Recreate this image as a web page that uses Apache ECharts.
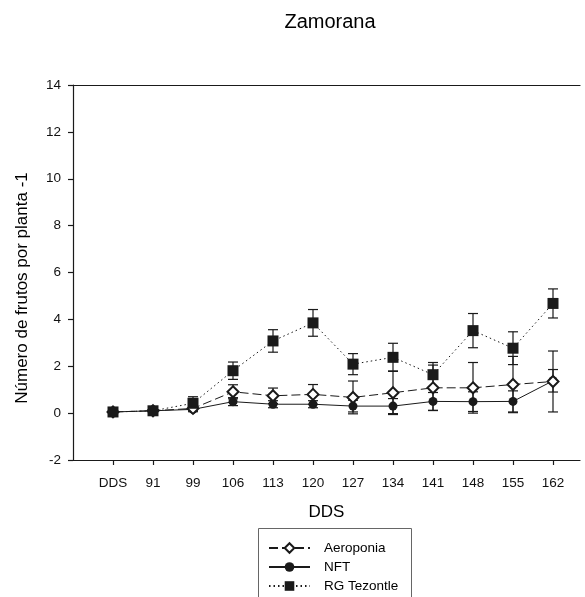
<!DOCTYPE html>
<html>
<head>
<meta charset="utf-8">
<script src="https://cdn.jsdelivr.net/npm/echarts@6/dist/echarts.min.js"></script>
<style>
  html, body { margin: 0; padding: 0; background: #fff; }
  #chart { width: 585px; height: 597px; }
</style>
</head>
<body>
<div id="chart"></div>
<script>
// Days after sowing (DDS) sampling points
const categories = ['DDS', '91', '99', '106', '113', '120', '127', '134', '141', '148', '155', '162'];

// Mean fruits per plant and their error bars, per growing system
const aeroponia    = [0.05, 0.10, 0.20, 0.91, 0.74, 0.80, 0.67, 0.87, 1.08, 1.08, 1.22, 1.35];
const aeroponiaErr = [0, 0, 0.10, 0.30, 0.33, 0.42, 0.70, 0.93, 0.97, 1.08, 1.20, 1.30];
const nft          = [0.05, 0.10, 0.16, 0.49, 0.38, 0.38, 0.30, 0.30, 0.50, 0.49, 0.50, 1.38];
const nftErr       = [0, 0, 0.10, 0.17, 0.15, 0.15, 0.25, 0.32, 0.38, 0.42, 0.45, 0.48];
const rgTezontle   = [0.05, 0.10, 0.42, 1.81, 3.08, 3.85, 2.09, 2.38, 1.64, 3.52, 2.77, 4.68];
const rgTezontleErr = [0, 0, 0.28, 0.37, 0.48, 0.57, 0.45, 0.60, 0.52, 0.73, 0.70, 0.62];

const yTicks = [-2, 0, 2, 4, 6, 8, 10, 12, 14];

const INK = '#1a1a1a';
const FONT = '"Liberation Sans", Arial, sans-serif';

const idx = categories.map((_, i) => i);
const points = vals => vals.map((v, i) => [i, v]);
const bars = (vals, errs) => vals
  .map((v, i) => [i, v - errs[i], v + errs[i]])
  .filter((d, i) => errs[i] > 0);

function errorBarRenderer(params, api) {
  const x = api.value(0);
  const lo = api.coord([x, api.value(1)]);
  const hi = api.coord([x, api.value(2)]);
  const half = 5;
  const style = { stroke: INK, lineWidth: 1.2 };
  return {
    type: 'group',
    children: [
      { type: 'line', shape: { x1: hi[0], y1: hi[1], x2: lo[0], y2: lo[1] }, style },
      { type: 'line', shape: { x1: hi[0] - half, y1: hi[1], x2: hi[0] + half, y2: hi[1] }, style },
      { type: 'line', shape: { x1: lo[0] - half, y1: lo[1], x2: lo[0] + half, y2: lo[1] }, style }
    ]
  };
}

const errorSeries = (name, vals, errs) => ({
  name: name + ' err',
  type: 'custom',
  renderItem: errorBarRenderer,
  data: bars(vals, errs),
  encode: { x: 0, y: [1, 2] },
  z: 1,
  silent: true
});

const chart = echarts.init(document.getElementById('chart'));
chart.setOption({
  animation: false,
  backgroundColor: '#fff',
  textStyle: { fontFamily: FONT, color: INK },
  graphic: [
    {
      type: 'text', x: 330, y: 22,
      style: { text: 'Zamorana', font: '20px ' + FONT, fill: '#000', align: 'center', verticalAlign: 'middle' }
    },
    {
      type: 'text', x: 22, y: 288, rotation: Math.PI / 2,
      style: { text: 'Número de frutos por planta -1', font: '17px ' + FONT, fill: '#000', align: 'center', verticalAlign: 'middle' }
    },
    {
      type: 'rect', shape: { x: 258.5, y: 528.5, width: 153, height: 80 },
      style: { fill: 'none', stroke: '#666', lineWidth: 1 }
    }
  ],
  grid: { left: 73, top: 85, right: 5, bottom: 137 },
  legend: {
    orient: 'vertical',
    left: 258,
    top: 528,
    padding: [13, 8, 2, 10],
    itemGap: 5,
    itemWidth: 41,
    itemHeight: 12,
    textStyle: { fontSize: 13.5, color: '#000', fontFamily: FONT, padding: [0, 0, 0, 9] },
    data: ['Aeroponia', 'NFT', 'RG Tezontle']
  },
  xAxis: [
    {
      type: 'value',
      min: -1,
      max: 11.675,
      name: 'DDS',
      nameLocation: 'middle',
      nameGap: 44,
      nameTextStyle: { fontSize: 17, color: '#000', fontFamily: FONT },
      splitLine: { show: false },
      axisLine: { show: true, onZero: false, lineStyle: { color: INK, width: 1.2 } },
      axisTick: { show: true, length: 5, customValues: idx, lineStyle: { color: INK, width: 1.2 } },
      axisLabel: {
        customValues: idx,
        margin: 16,
        fontSize: 13.5,
        color: '#111',
        fontFamily: FONT,
        formatter: v => categories[Math.round(v)] ?? ''
      }
    },
    {
      type: 'value',
      position: 'top',
      min: -1,
      max: 11.675,
      splitLine: { show: false },
      axisLine: { show: true, onZero: false, lineStyle: { color: INK, width: 1.2 } },
      axisTick: { show: false },
      axisLabel: { show: false }
    }
  ],
  yAxis: {
    type: 'value',
    min: -2,
    max: 14,
    interval: 2,
    splitLine: { show: false },
    axisLine: { show: true, onZero: false, lineStyle: { color: INK, width: 1.2 } },
    axisTick: { show: true, length: 5, customValues: yTicks, lineStyle: { color: INK, width: 1.2 } },
    axisLabel: { customValues: yTicks, margin: 12, fontSize: 13.5, color: '#111', fontFamily: FONT }
  },
  series: [
    errorSeries('Aeroponia', aeroponia, aeroponiaErr),
    errorSeries('NFT', nft, nftErr),
    errorSeries('RG Tezontle', rgTezontle, rgTezontleErr),
    {
      name: 'Aeroponia',
      type: 'line',
      data: points(aeroponia),
      symbol: 'diamond',
      symbolSize: 11,
      z: 4,
      lineStyle: { color: INK, width: 1, type: [9, 4] },
      itemStyle: { color: '#fff', borderColor: INK, borderWidth: 2 }
    },
    {
      name: 'NFT',
      type: 'line',
      data: points(nft),
      symbol: 'circle',
      symbolSize: 9,
      z: 3,
      lineStyle: { color: INK, width: 1, type: 'solid' },
      itemStyle: { color: INK, borderColor: INK, borderWidth: 0 }
    },
    {
      name: 'RG Tezontle',
      type: 'line',
      data: points(rgTezontle),
      symbol: 'rect',
      symbolSize: 11,
      z: 5,
      lineStyle: { color: INK, width: 1, type: [1.5, 3] },
      itemStyle: { color: INK, borderColor: INK, borderWidth: 0 }
    }
  ]
});
</script>
</body>
</html>
